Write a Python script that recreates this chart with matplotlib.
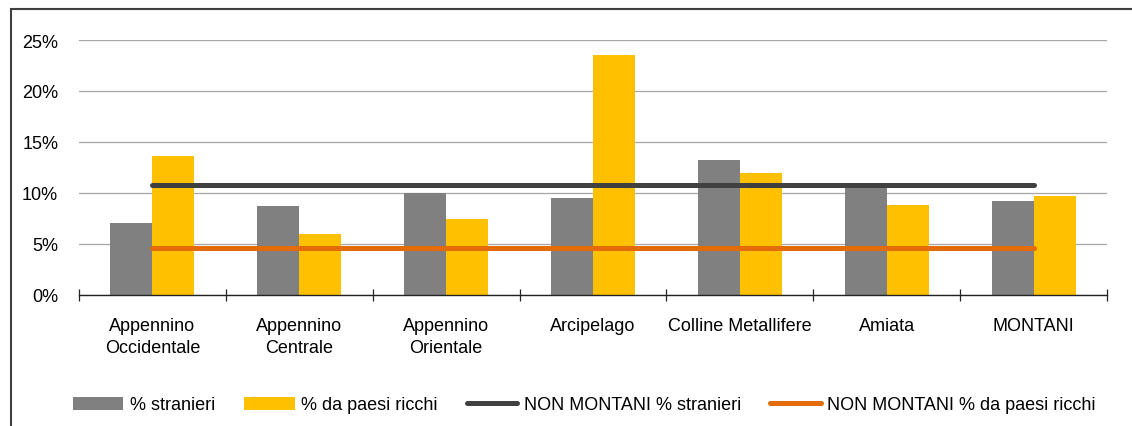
import matplotlib
matplotlib.use('Agg')
import matplotlib.pyplot as plt
import numpy as np
from matplotlib.patches import Patch, Rectangle
from matplotlib.lines import Line2D

plt.rcParams['font.family'] = ['Liberation Sans', 'DejaVu Sans']

# ── dati ──────────────────────────────────────────────────────────────────────
categorie = ['Appennino\nOccidentale', 'Appennino\nCentrale', 'Appennino\nOrientale',
             'Arcipelago', 'Colline Metallifere', 'Amiata', 'MONTANI']
stranieri = [7.0, 8.7, 10.0, 9.5, 13.2, 10.7, 9.2]
paesi_ricchi = [13.6, 6.0, 7.4, 23.5, 11.9, 8.8, 9.7]
non_montani_stranieri = [10.8] * 7
non_montani_ricchi = [4.6] * 7

C_GRAY = '#808080'
C_YELLOW = '#FFC000'
C_DARK = '#404040'
C_ORANGE = '#E36C09'

W, H = 1132, 427
fig = plt.figure(figsize=(W / 100, H / 100), dpi=100)

# cornice esterna (tagliata a destra e in basso)
fig.patches.append(Rectangle((11 / W, -0.1), 1.2, 1 - 10 / H + 0.1,
                             transform=fig.transFigure, fill=False,
                             edgecolor='#404040', linewidth=1.5))

ax = fig.add_axes([79 / W, (H - 295.7) / H, (1107 - 79) / W, (295.7 - 41) / H])

x = np.arange(len(categorie))
bw = 0.286
ax.bar(x - bw / 2, stranieri, bw, color=C_GRAY, edgecolor='none', zorder=2)
ax.bar(x + bw / 2, paesi_ricchi, bw, color=C_YELLOW, edgecolor='none', zorder=2)
ax.plot(x, non_montani_stranieri, color=C_DARK, lw=3.6, solid_capstyle='round', zorder=3)
ax.plot(x, non_montani_ricchi, color=C_ORANGE, lw=3.6, solid_capstyle='round', zorder=3)

ax.set_xlim(-0.5, len(categorie) - 0.5)
ax.set_ylim(0, 25)
ax.set_yticks([0, 5, 10, 15, 20, 25])
ax.set_yticklabels(['0%', '5%', '10%', '15%', '20%', '25%'], fontsize=13)
ax.tick_params(axis='y', length=0, pad=15)
ax.yaxis.grid(True, color='#A6A6A6', linewidth=0.9, zorder=0)
ax.set_axisbelow(True)

ax.set_xticks(np.arange(-0.5, len(categorie), 1.0))
ax.set_xticklabels([])
ax.tick_params(axis='x', which='major', direction='inout', length=8.6, width=0.9, color='#222222')
ax.set_xticks(x, minor=True)
ax.set_xticklabels(categorie, minor=True, fontsize=13, va='top', ha='center',
                   linespacing=1.4)
ax.tick_params(axis='x', which='minor', length=0, pad=16)

for s in ['left', 'right', 'top']:
    ax.spines[s].set_visible(False)
ax.spines['bottom'].set_color('#222222')
ax.spines['bottom'].set_linewidth(1.0)

handles = [
    Patch(facecolor=C_GRAY, edgecolor='none', label='% stranieri'),
    Patch(facecolor=C_YELLOW, edgecolor='none', label='% da paesi ricchi'),
    Line2D([], [], color=C_DARK, lw=3.6, solid_capstyle='round', label='NON MONTANI % stranieri'),
    Line2D([], [], color=C_ORANGE, lw=3.6, solid_capstyle='round', label='NON MONTANI % da paesi ricchi'),
]
fig.legend(handles=handles, loc='center', bbox_to_anchor=(0.516, 21 / H), ncol=4,
           frameon=False, fontsize=13, handlelength=2.8, handletextpad=0.35,
           columnspacing=1.62)

fig.savefig('out.png', dpi=100)
